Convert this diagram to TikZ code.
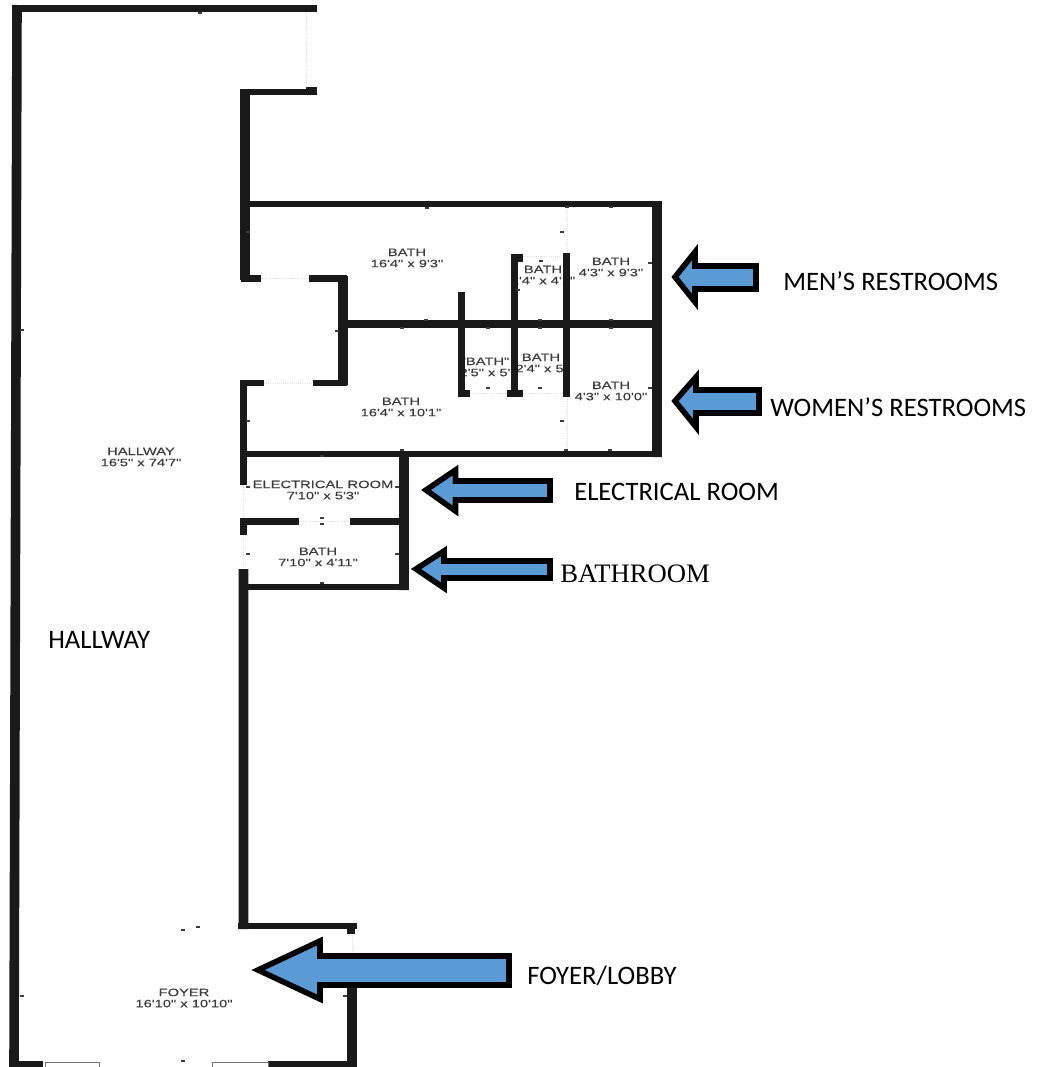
\documentclass[tikz,border=0pt]{standalone}
\usepackage{fontspec}
\setmainfont{Carlito}
\newfontfamily\planfont[FakeStretch=1.38,FakeBold=0.3]{Liberation Sans}
\newfontfamily\serifname{Liberation Serif}
\definecolor{arrowblue}{HTML}{5B9BD5}
\definecolor{wallblack}{HTML}{1A1A1A}
\definecolor{plantext}{HTML}{3C3C3C}
\tikzset{
	wall/.style={draw=wallblack,line width=7.2pt,line cap=butt},
	crosswall/.style={draw=wallblack,line width=4.8pt,line cap=butt},
	thinwall/.style={draw=wallblack,line width=5.3pt,line cap=butt},
	opening/.style={draw=black!12,line width=0.6pt,densely dotted},
	callout/.style={draw=black,fill=arrowblue,line width=4.2pt,line join=miter,miter limit=8},
	roomlabel/.style={font=\planfont\fontsize{8}{8.4}\selectfont,text=plantext,align=center,inner sep=0pt},
	arrowlabel/.style={font=\fontsize{20}{22}\selectfont,text=black,anchor=west,inner sep=0pt},
	tick/.style={fill=plantext,inner sep=0pt,minimum width=3pt,minimum height=1.6pt}
}
\begin{document}
\begin{tikzpicture}[x=0.75pt,y=-0.75pt]
\useasboundingbox (0,0) rectangle (1040,1067);
% room labels go first, the walls cut through some of them
\node[roomlabel] (hallway) at (141,457) {HALLWAY\\16'5" x 74'7"};
\node[roomlabel] (menbath) at (407,258) {BATH\\16'4" x 9'3"};
\node[roomlabel] (mensmall) at (543,275) {BATH\\2'4" x 4'1"};
\node[roomlabel] (menside) at (611,267) {BATH\\4'3" x 9'3"};
\node[roomlabel] (womenbath) at (401,407) {BATH\\16'4" x 10'1"};
\node[roomlabel] (womensmalla) at (485,367) {"BATH"\\2'5" x 5'};
\node[roomlabel] (womensmallb) at (541,363) {BATH\\2'4" x 5'};
\node[roomlabel] (womenside) at (611,391) {BATH\\4'3" x 10'0"};
\node[roomlabel] (electrical) at (323,490) {ELECTRICAL ROOM\\7'10" x 5'3"};
\node[roomlabel] (bath) at (318,557) {BATH\\7'10" x 4'11"};
\node[roomlabel] (foyer) at (184,998) {FOYER\\16'10" x 10'10"};
% faint door lines
\draw[opening]
	(306,12) -- (306,87)
	(261,278) -- (309,278)
	(264,383) -- (313,383)
	(567,207) -- (567,253)
	(523,256) -- (563,256)
	(470,393) -- (563,393)
	(567,397) -- (567,451)
	(299,521) -- (350,521)
	(243,485) -- (243,519)
	(243,535) -- (243,569)
	(352,934) -- (352,985)
	;
% thick upright walls
\draw[wall]
	(17,5) -- (14,1067)
	(245,89) -- (245,280)
	(657,201) -- (657,457)
	(404,451) -- (404,590)
	(243.5,569) -- (243.5,929)
	(352,985) -- (352,1067)
	(343,276) -- (343,385)
	;
% walls running across
\draw[crosswall]
	(12,8.5) -- (317,8.5)
	(241,92) -- (317,92)
	(241,204) -- (662,204)
	(240,454) -- (662,454)
	(240,587) -- (409,587)
	(238,926) -- (357,926)
	(241,278.5) -- (261,278.5)
	(309,278.5) -- (347,278.5)
	(240,383) -- (264,383)
	(313,383) -- (347,383)
	(9,1064.5) -- (43,1064.5)
	(268,1064.5) -- (357,1064.5)
	(306,90.5) -- (317,90.5)
	;
% inner walls
\draw[thinwall]
	(461.5,292) -- (461.5,396)
	(514.5,256) -- (514.5,396)
	(566.5,253) -- (566.5,397)
	(243.5,381) -- (243.5,485)
	(243.5,519) -- (243.5,535)
	(351,923) -- (351,934)
	(458,393.5) -- (470,393.5)
	(507,393.5) -- (523,393.5)
	(511,258) -- (523,258)
	(240,521.5) -- (299,521.5)
	(350,521.5) -- (404,521.5)
	(347,324) -- (652,324)
	;
% windows at the front
\draw[draw=black!55,line width=0.6pt]
	(45,1067) -- (45,1062) -- (99,1062) -- (99,1067)
	(212,1067) -- (212,1062) -- (268,1062) -- (268,1067)
	;
% small marks on the walls
\foreach \markx/\marky in {200/13,427/208,567/207,611/207,562/232,426/320,402/328,488/328,540/320,540/328,611/320,611/328,
	337/331,248/232,650/263,650/388,248/421,562/421,402/450,566/450,610/450,322/456,541/261,518/290,
	322/518,322/524,248/487,397/487,248/554,397/554,322/583,183/930,198/927,183/1061,22/996,345/996,22/330,488/388,540/388}
	\node[tick] (mark\markx\marky) at (\markx,\marky) {};
% arrows
\draw[callout] (675,277) -- (695,252) -- (695,266) -- (756,266) -- (756,289) -- (695,289) -- (695,302) -- cycle;
\draw[callout] (675,401) -- (696,377) -- (696,390) -- (759,390) -- (759,413) -- (696,413) -- (696,427) -- cycle;
\draw[callout] (426,490) -- (455.5,470) -- (455.5,481) -- (550,481) -- (550,500) -- (455.5,500) -- (455.5,511) -- cycle;
\draw[callout] (416,569) -- (444,551) -- (444,561) -- (550,561) -- (550,578) -- (444,578) -- (444,588) -- cycle;
\draw[callout] (258,970) -- (320,941) -- (320,956) -- (509,956) -- (509,985) -- (320,985) -- (320,999) -- cycle;
% what each arrow points out
\node[arrowlabel] (menlabel) at (783,281) {MEN’S RESTROOMS};
\node[arrowlabel] (womenlabel) at (770,407) {WOMEN’S RESTROOMS};
\node[arrowlabel] (electricallabel) at (574,492) {ELECTRICAL ROOM};
\node[arrowlabel,font=\serifname\fontsize{20}{22}\selectfont] (bathlabel) at (560,574) {BATHROOM};
\node[arrowlabel] (hallwaylabel) at (48,640) {HALLWAY};
\node[arrowlabel] (foyerlabel) at (527,976) {FOYER/LOBBY};
\end{tikzpicture}
\end{document}
